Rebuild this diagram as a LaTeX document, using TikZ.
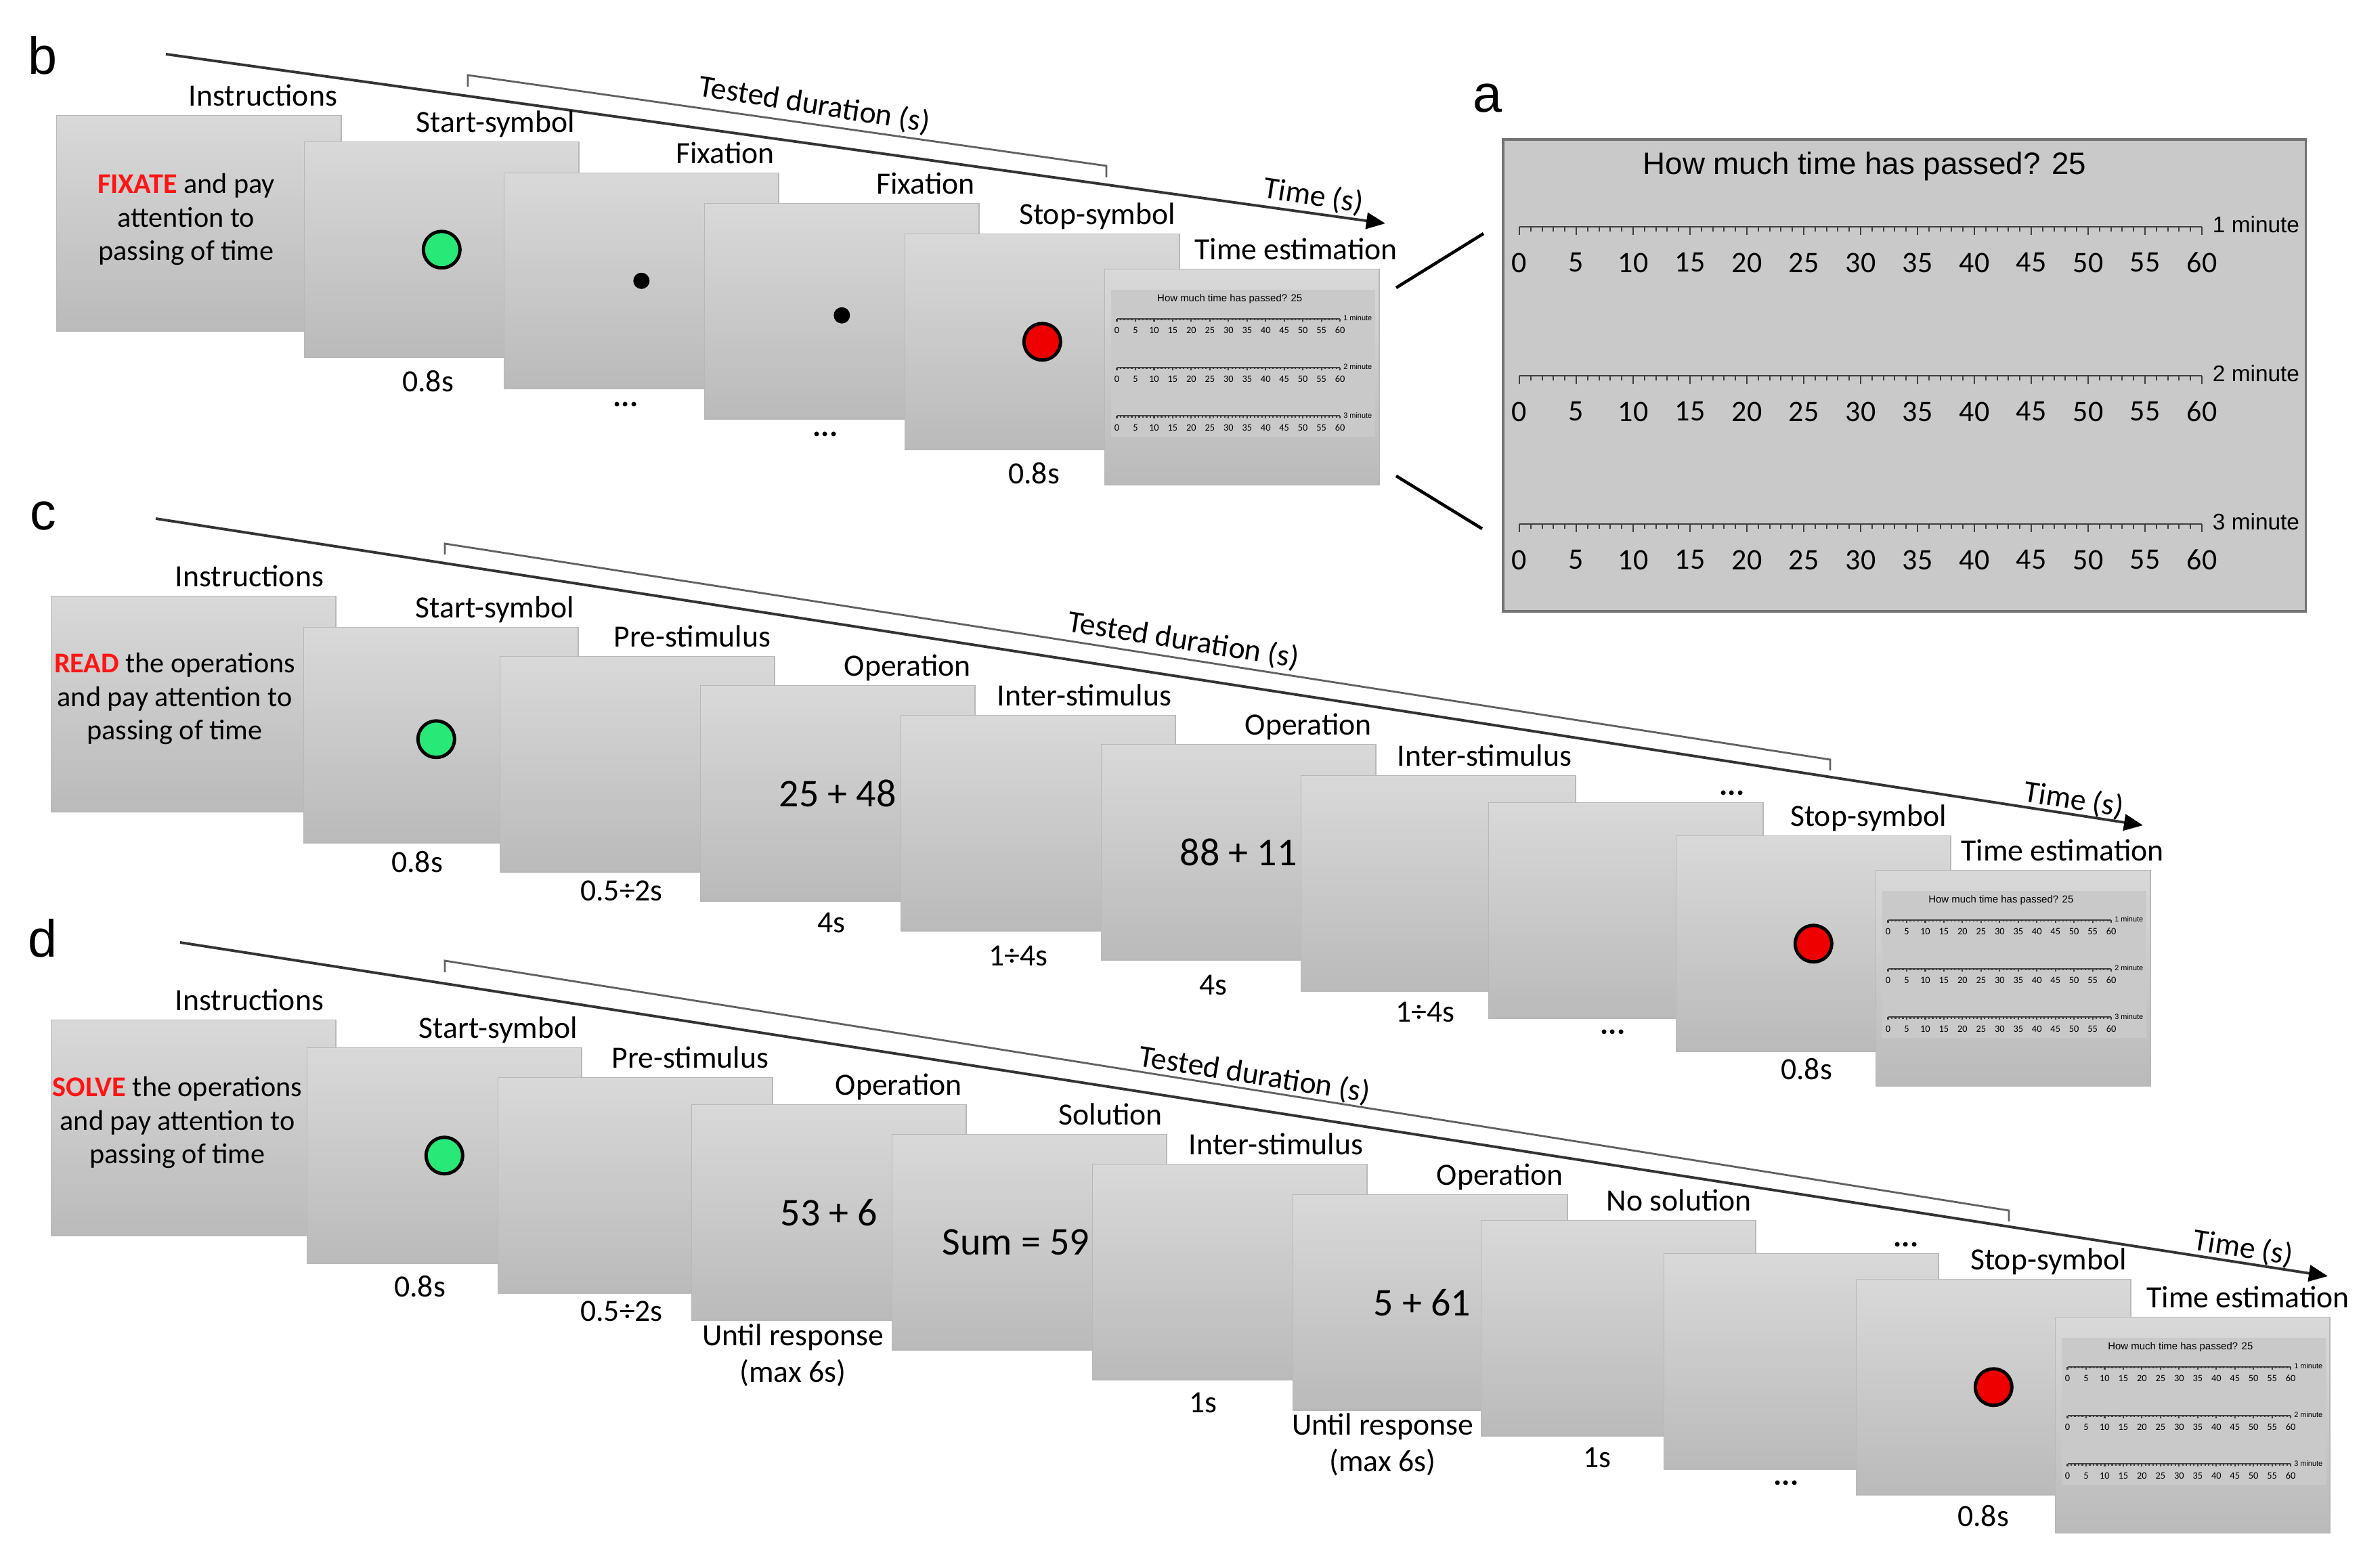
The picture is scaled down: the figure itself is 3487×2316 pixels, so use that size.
\documentclass[tikz,border=0pt]{standalone}
\usepackage{fontspec}
\setmainfont{Carlito}
\newfontfamily\arialfont{Liberation Sans}
\usetikzlibrary{arrows.meta}
\definecolor{startgreen}{RGB}{40,232,120}
\definecolor{stopred}{RGB}{238,0,0}
\definecolor{instred}{RGB}{255,20,20}
\tikzstyle{screen}=[draw=black!28,top color=black!15,bottom color=black!27,minimum width=4.05cm,minimum height=3.18cm,inner sep=0pt,anchor=north west]
\tikzstyle{instrbox}=[screen,minimum width=4.2cm]
\tikzstyle{lbl}=[inner sep=0pt,anchor=base east,font=\fontsize{13}{15}\selectfont]
\tikzstyle{dur}=[inner sep=0pt,align=center,font=\fontsize{13}{15.5}\selectfont]
\tikzstyle{stim}=[inner sep=0pt,font=\fontsize{16.5}{19}\selectfont]
\tikzstyle{instr}=[inner sep=0pt,align=center,font=\fontsize{12}{14}\selectfont]
\tikzstyle{panel}=[inner sep=0pt,font=\arialfont\fontsize{22}{24}\selectfont]
\tikzstyle{timeline}=[line width=1.1pt,draw=black!80,-{Triangle[length=0.28cm,width=0.24cm,color=black]}]
\tikzstyle{bracket}=[line width=0.8pt,draw=black!62]
\tikzstyle{slanted}=[inner sep=0pt,rotate=-9,font=\fontsize{13}{15}\selectfont]
\tikzstyle{startdot}=[circle,draw=black,line width=1.4pt,fill=startgreen,minimum size=0.54cm,inner sep=0pt]
\tikzstyle{stopdot}=[startdot,fill=stopred]
\tikzstyle{fixdot}=[circle,fill=black,minimum size=0.24cm,inner sep=0pt]
\tikzstyle{zoomline}=[line width=1.3pt,draw=black]
\tikzstyle{ruler}=[line width=0.6pt,draw=black!75]
\tikzstyle{esttitle}=[inner sep=0pt,font=\arialfont\fontsize{13}{15}\selectfont]
\tikzstyle{estnum}=[inner sep=0pt,font=\fontsize{12.5}{14}\selectfont]
\tikzstyle{estmin}=[inner sep=0pt,font=\arialfont\fontsize{9.5}{11}\selectfont]

% content of the time estimation screen, origin at its top left
\newcommand\estcontent[1]{%
  \node[esttitle] (#1-q) at (536,42) {How much time has passed? 25};
  \foreach \row/\yy in {1/131,2/351,3/570}{%
    \draw[ruler] (26,\yy) -- (1034,\yy);
    \foreach \i in {0,...,60}{%
      \pgfmathsetmacro\tlen{ifthenelse(mod(\i,5)==0,12,7)}%
      \draw[ruler] (26+16.8*\i,\yy) -- ++(0,\tlen);
    }
    \foreach \nn in {0,...,12}{%
      \pgfmathtruncatemacro\val{5*\nn}%
      \node[estnum] (#1-\row-\nn) at (26+84*\nn,\yy+53) {\val};
    }
    \node[estmin] (#1-m\row) at (1114,\yy-3) {\row\ minute};
  }%
}
% small copy of it inside a screen
\newcommand\thumb[1]{%
  \fill[black!21] ([xshift=0.1cm,yshift=-0.31cm]#1.north west) rectangle ++(390,217);
  \begin{scope}[shift={([xshift=0.1cm,yshift=-0.31cm]#1.north west)},scale=0.327,transform shape]
    \estcontent{#1}
  \end{scope}%
}

\begin{document}
\begin{tikzpicture}[x=0.01cm,y=-0.01cm]
    \useasboundingbox (0,0) rectangle (3487,2316);

    % ---- b
    \node[panel] (pb) at (63,82) {b};
    \coordinate (b-t0) at (245,80);
    \coordinate (b-t1) at (2046,330);
    \draw[timeline] (b-t0) -- (b-t1);
    \draw[bracket] (691,128) -- (691,111) -- (1634,245) -- (1634,262);
    \node[slanted] (b-td) at (1203,155) {Tested duration (s)};
    \node[slanted] (b-ts) at (1940,290) {Time (s)};

    \node[instrbox] (b1) at (83,170) {};
    \node[lbl] (b1-l) at ([xshift=-0.06cm,yshift=0.13cm]b1.north east) {Instructions};
    \node[instr] (b1-t) at (275,324) {\textcolor{instred}{\textbf{FIXATE}} and pay\\attention to\\passing of time};
    \foreach \nm/\x/\y/\txt in {b2/449/209/Start-symbol,b3/744/255/Fixation,b4/1040/300/Fixation,b5/1336/345/Stop-symbol}{
        \node[screen] (\nm) at (\x,\y) {};
        \node[lbl] (\nm-l) at ([xshift=-0.06cm,yshift=0.13cm]\nm.north east) {\txt};
    }
    \node[screen] (b6) at (1631,397) {};
    \node[lbl] (b6-l) at ([xshift=0.27cm,yshift=0.13cm]b6.north east) {Time estimation};
    \thumb{b6}
    \node[startdot] (b2-s) at (b2) {};
    \node[fixdot] (b3-s) at (b3) {};
    \node[fixdot] (b4-s) at ([yshift=-0.06cm]b4.center) {};
    \node[stopdot] (b5-s) at (b5) {};
    \node[dur] (b2-d) at (632,563) {0.8s};
    \node[dur] (b3-d) at (924,597) {\textbf{...}};
    \node[dur] (b4-d) at (1219,641) {\textbf{...}};
    \node[dur] (b5-d) at (1527,699) {0.8s};

    % ---- a
    \node[panel] (pa) at (2197,145) {a};
    \node[draw=black!55,line width=1pt,fill=black!21,anchor=north west,minimum width=11.85cm,minimum height=6.97cm,inner sep=0pt] (a) at (2218,204) {};
    \begin{scope}[shift={(a.north west)}]
        \estcontent{a}
    \end{scope}
    \coordinate (zb1) at (2062,425);
    \coordinate (za1) at (2191,345);
    \coordinate (zb2) at (2062,703);
    \coordinate (za2) at (2189,781);
    \draw[zoomline] (zb1) -- (za1);
    \draw[zoomline] (zb2) -- (za2);

    % ---- c
    \node[panel] (pc) at (64,762) {c};
    \coordinate (c-t0) at (230,766);
    \coordinate (c-t1) at (3165,1219);
    \draw[timeline] (c-t0) -- (c-t1);
    \draw[bracket] (657,819) -- (657,803) -- (2703,1122) -- (2703,1138);
    \node[slanted] (c-td) at (1748,946) {Tested duration (s)};
    \node[slanted] (c-ts) at (3063,1182) {Time (s)};

    \node[instrbox] (c1) at (75,880) {};
    \node[lbl] (c1-l) at ([xshift=-0.18cm,yshift=0.13cm]c1.north east) {Instructions};
    \node[instr] (c1-t) at (258,1032) {\textcolor{instred}{\textbf{READ}} the operations\\and pay attention to\\passing of time};
    \foreach \nm/\x/\y/\txt in {c2/448/926/Start-symbol,c3/738/969/Pre-stimulus,c4/1034/1012/Operation,c5/1330/1056/Inter-stimulus,c6/1626/1099/Operation,c7/1921/1145/Inter-stimulus,c8/2198/1185/{},c9/2475/1234/Stop-symbol}{
        \node[screen] (\nm) at (\x,\y) {};
        \node[lbl] (\nm-l) at ([xshift=-0.06cm,yshift=0.13cm]\nm.north east) {\txt};
    }
    \node[dur] (c8-l2) at (2558,1171) {\textbf{...}};
    \node[screen] (c10) at (2770,1285) {};
    \node[lbl] (c10-l) at ([xshift=0.2cm,yshift=0.13cm]c10.north east) {Time estimation};
    \thumb{c10}
    \node[startdot] (c2-s) at ([xshift=-0.07cm,yshift=-0.06cm]c2.center) {};
    \node[stim] (c4-s) at (c4) {25 + 48};
    \node[stim] (c6-s) at (c6) {88 + 11};
    \node[stopdot] (c9-s) at (c9) {};
    \node[dur] (c2-d) at (616,1273) {0.8s};
    \node[dur] (c3-d) at (918,1316) {0.5÷2s};
    \node[dur] (c4-d) at (1228,1363) {4s};
    \node[dur] (c5-d) at (1504,1412) {1÷4s};
    \node[dur] (c6-d) at (1792,1455) {4s};
    \node[dur] (c7-d) at (2105,1495) {1÷4s};
    \node[dur] (c8-d) at (2382,1524) {\textbf{...}};
    \node[dur] (c9-d) at (2668,1579) {0.8s};

    % ---- d
    \node[panel] (pd) at (63,1386) {d};
    \coordinate (d-t0) at (266,1392);
    \coordinate (d-t1) at (3438,1885);
    \draw[timeline] (d-t0) -- (d-t1);
    \draw[bracket] (657,1436) -- (657,1419) -- (2967,1788) -- (2967,1804);
    \node[slanted] (d-td) at (1853,1588) {Tested duration (s)};
    \node[slanted] (d-ts) at (3313,1844) {Time (s)};

    \node[instrbox] (d1) at (75,1506) {};
    \node[lbl] (d1-l) at ([xshift=-0.18cm,yshift=0.13cm]d1.north east) {Instructions};
    \node[instr] (d1-t) at (262,1658) {\textcolor{instred}{\textbf{SOLVE}} the operations\\and pay attention to\\passing of time};
    \foreach \nm/\x/\y/\txt in {d2/453/1547/Start-symbol,d3/735/1591/Pre-stimulus,d4/1021/1631/Operation,d5/1317/1675/Solution,d6/1613/1719/Inter-stimulus,d7/1909/1764/Operation,d8/2187/1802/No solution,d9/2457/1851/{},d10/2741/1889/Stop-symbol}{
        \node[screen] (\nm) at (\x,\y) {};
        \node[lbl] (\nm-l) at ([xshift=-0.06cm,yshift=0.13cm]\nm.north east) {\txt};
    }
    \node[dur] (d9-l2) at (2815,1838) {\textbf{...}};
    \node[screen] (d11) at (3035,1945) {};
    \node[lbl] (d11-l) at ([xshift=0.29cm,yshift=0.13cm]d11.north east) {Time estimation};
    \thumb{d11}
    \node[startdot] (d2-s) at (d2) {};
    \node[stim] (d4-s) at (d4) {53 + 6};
    \node[stim] (d5-s) at ([xshift=-0.2cm]d5.center) {Sum = 59};
    \node[stim] (d7-s) at ([xshift=-0.12cm]d7.center) {5 + 61};
    \node[stopdot] (d10-s) at (d10) {};
    \node[dur] (d2-d) at (620,1900) {0.8s};
    \node[dur] (d3-d) at (918,1937) {0.5÷2s};
    \node[dur] (d4-d) at (1171,2002) {Until response\\(max 6s)};
    \node[dur] (d6-d) at (1777,2072) {1s};
    \node[dur] (d7-d) at (2042,2134) {Until response\\(max 6s)};
    \node[dur] (d8-d) at (2359,2153) {1s};
    \node[dur] (d9-d) at (2638,2190) {\textbf{...}};
    \node[dur] (d10-d) at (2929,2239) {0.8s};
\end{tikzpicture}
\end{document}
